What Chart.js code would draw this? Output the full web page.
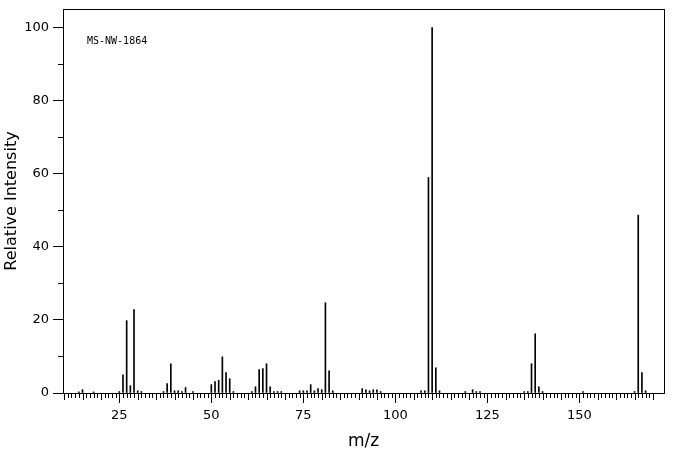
<!DOCTYPE html>
<html>
<head>
<meta charset="utf-8">
<title>MS-NW-1864</title>
<script src="https://cdn.jsdelivr.net/npm/chart.js@4"></script>
<style>
  body { margin: 0; background: #fff; }
  #wrap { width: 676px; height: 455px; }
</style>
</head>
<body>
<div id="wrap"><canvas id="myChart" width="676" height="455"></canvas></div>
<script>
'use strict';

// data

let mzValues = [14, 15, 18, 25, 26, 27, 28, 29, 30, 31, 37, 38, 39, 40, 41, 42, 43, 45,
  50, 51, 52, 53, 54, 55, 56, 61, 62, 63, 64, 65, 66, 67, 68, 69,
  74, 75, 76, 77, 78, 79, 80, 81, 82, 83, 91, 92, 93, 94, 95, 96,
  107, 108, 109, 110, 111, 112, 119, 121, 122, 123,
  135, 136, 137, 138, 139, 140, 151, 165, 166, 167, 168];
let intensities = [0.3, 0.9, 0.3, 0.4, 5.0, 19.8, 2.0, 22.8, 0.6, 0.4, 0.4, 2.6, 8.0, 0.6, 0.6, 0.4, 1.5, 0.4,
  2.3, 3.1, 3.5, 9.9, 5.6, 3.9, 0.4, 0.4, 1.7, 6.4, 6.7, 8.0, 1.7, 0.4, 0.4, 0.4,
  0.6, 0.6, 0.6, 2.3, 0.6, 1.2, 0.9, 24.7, 6.1, 0.6, 1.2, 0.9, 0.6, 0.9, 0.9, 0.4,
  0.6, 0.6, 59.0, 100, 6.9, 0.6, 0.4, 0.9, 0.4, 0.4,
  0.4, 0.4, 8.0, 16.2, 1.7, 0.4, 0.4, 0.4, 48.7, 5.6, 0.6];
let xTickLabels = [25, 50, 75, 100, 125, 150];
let yTickLabels = [0, 20, 40, 60, 80, 100];
let sampleName = 'MS-NW-1864';

// helpers

let points = [];
for (let i = 0; i < mzValues.length; i++) {
  points.push({ x: mzValues[i], y: intensities[i] });
}

// small ticks every unit on x, and the odd tens on y, plus the box round the plot
let framePlugin = {
  id: 'frame',
  afterDraw(chart) {
    let ctx = chart.ctx;
    let area = chart.chartArea;
    let xs = chart.scales.x;
    let ys = chart.scales.y;
    ctx.save();
    ctx.strokeStyle = '#000';
    ctx.lineWidth = 1;
    ctx.beginPath();
    let base = Math.round(area.bottom);
    for (let m = 10; m <= 170; m++) {
      if (m % 25 === 0) continue;
      let px = Math.round(xs.getPixelForValue(m)) + 0.5;
      let len = (m % 5 === 0) ? 7 : 5;
      ctx.moveTo(px, base);
      ctx.lineTo(px, base + len);
    }
    for (let v = 10; v < 100; v += 20) {
      let py = Math.round(ys.getPixelForValue(v)) + 0.5;
      ctx.moveTo(Math.round(area.left) - 5, py);
      ctx.lineTo(Math.round(area.left), py);
    }
    ctx.stroke();
    ctx.strokeRect(Math.round(area.left) + 0.5, Math.round(area.top) + 0.5,
      Math.round(area.right - area.left), Math.round(area.bottom - area.top));
    ctx.fillStyle = '#000';
    ctx.font = '10px "DejaVu Sans Mono"';
    ctx.textBaseline = 'middle';
    ctx.fillText(sampleName, area.left + 24, area.top + 32);
    ctx.restore();
  }
};

function noEdgePadding(scale) {
  scale.paddingTop = 0;
  scale.paddingBottom = 0;
  scale.paddingLeft = 0;
  scale.paddingRight = 0;
}

// chart

let canvasChart = document.getElementById('myChart');
const myChart = new Chart(canvasChart, {
  type: 'bar',
  data: {
    datasets: [{
      data: points,
      backgroundColor: '#000',
      borderWidth: 0,
      barThickness: 1,
      grouped: false
    }]
  },
  options: {
    responsive: false,
    animation: false,
    layout: { padding: { top: 9, right: 12, left: 0, bottom: 0 } },
    plugins: { legend: { display: false }, tooltip: { enabled: false } },
    scales: {
      x: {
        type: 'linear',
        min: 9.7,
        max: 173,
        offset: false,
        grid: { offset: false, drawOnChartArea: false, tickLength: 10, color: '#000', tickColor: '#000' },
        border: { color: '#000', width: 1 },
        ticks: {
          stepSize: 25,
          includeBounds: false,
          maxRotation: 0,
          padding: 5,
          color: '#000',
          font: { family: 'DejaVu Sans', size: 13 },
          callback: (v) => xTickLabels.includes(v) ? String(v) : ''
        },
        title: {
          display: true,
          text: 'm/z',
          color: '#000',
          font: { family: 'DejaVu Sans', size: 17 },
          padding: { top: 0, bottom: 3 }
        },
        afterFit: (scale) => { scale.height = 62; noEdgePadding(scale); }
      },
      y: {
        min: 0,
        max: 105.1,
        grid: { drawOnChartArea: false, tickLength: 10, color: '#000', tickColor: '#000' },
        border: { color: '#000', width: 1 },
        ticks: {
          stepSize: 20,
          includeBounds: false,
          padding: 4,
          color: '#000',
          font: { family: 'DejaVu Sans', size: 13 },
          callback: (v) => yTickLabels.includes(v) ? String(v) : ''
        },
        title: {
          display: true,
          text: 'Relative Intensity',
          color: '#000',
          font: { family: 'DejaVu Sans', size: 16 },
          padding: { top: 2, bottom: 0 }
        },
        afterFit: (scale) => { scale.width = 63; noEdgePadding(scale); }
      }
    }
  },
  plugins: [framePlugin]
});
</script>
</body>
</html>
